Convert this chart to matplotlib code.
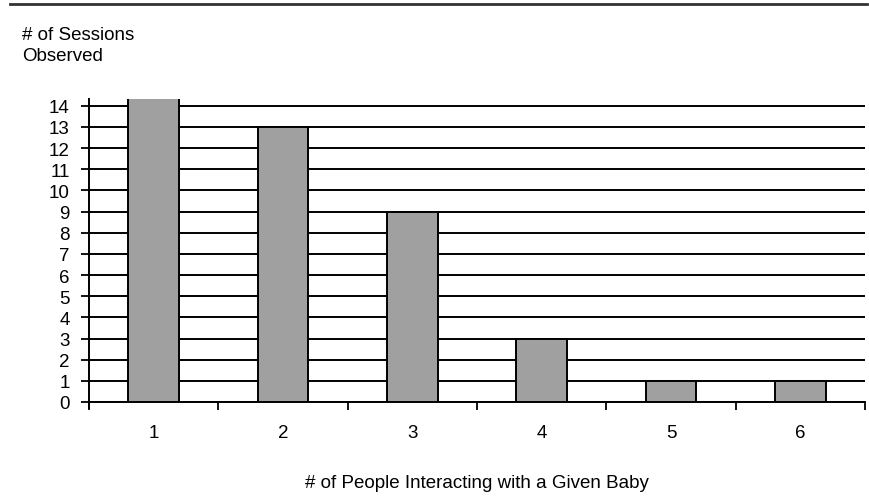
import matplotlib
matplotlib.use("Agg")
import matplotlib.pyplot as plt
from matplotlib.lines import Line2D

categories = ["1", "2", "3", "4", "5", "6"]
sessions = [15, 13, 9, 3, 1, 1]
y_ticks = list(range(0, 15))

plt.rcParams['font.family'] = ['Liberation Sans', 'DejaVu Sans']
FS = 13.5

fig = plt.figure(figsize=(8.69, 5.02), dpi=100)
ax = fig.add_axes([89/869, 1-403/502, (865-89)/869, (403-100.4)/502])

x = list(range(len(categories)))
ax.bar(x, sessions, width=0.39, color='#a0a0a0', edgecolor='black', linewidth=1.4, zorder=3)
ax.set_xlim(-0.5, len(categories)-0.5)
ax.set_ylim(0, 14.3)
ax.set_yticks(y_ticks)
ax.set_yticklabels([str(v) for v in y_ticks], fontsize=FS)
ax.set_xticks([i + 0.5 for i in range(-1, len(categories))])
ax.set_xticklabels([])
ax.set_xticks(x, minor=True)
ax.set_xticklabels(categories, minor=True, fontsize=FS)
ax.tick_params(axis='x', which='minor', length=0, pad=15.5)
ax.tick_params(axis='x', which='major', length=6, width=1.3, direction='out')
ax.tick_params(axis='y', length=6, width=1.3, direction='out', pad=8)
ax.yaxis.grid(True, color='black', linewidth=1.4, zorder=0)
ax.set_axisbelow(True)
for s in ['top', 'right']:
    ax.spines[s].set_visible(False)
ax.spines['left'].set_linewidth(1.4)
ax.spines['bottom'].set_linewidth(1.4)
ax.spines['left'].set_bounds(-0.3, 14.3)

fig.text(477/869, 1-484/502, "# of People Interacting with a Given Baby", fontsize=FS,
         ha='center', va='center')
fig.text(22/869, 1-27/502, "# of Sessions\nObserved", fontsize=FS, ha='left', va='top', linespacing=1.3)

fig.add_artist(Line2D([10/869, 867/869], [1-5/502, 1-5/502], color='#333333', linewidth=2, transform=fig.transFigure))

fig.savefig("out.png", dpi=100)
